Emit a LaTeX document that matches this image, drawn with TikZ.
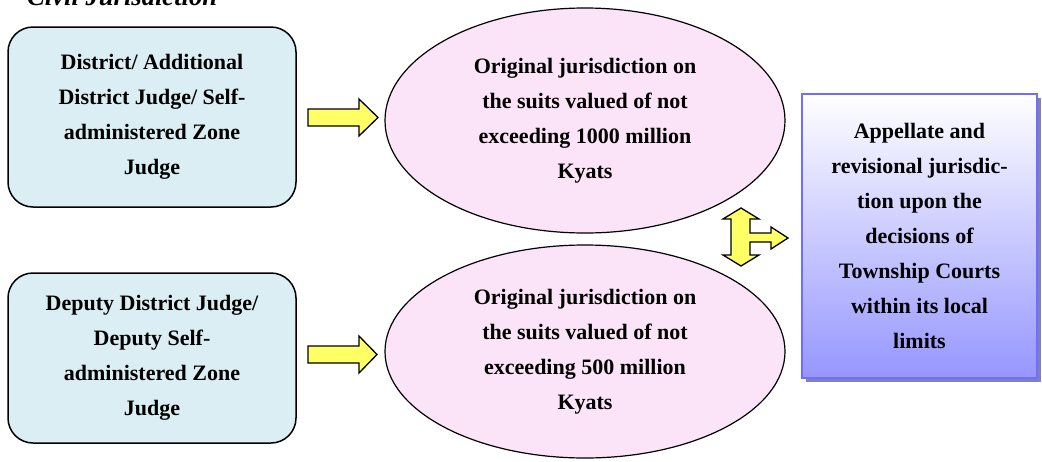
\documentclass[tikz,border=0pt]{standalone}
\usepackage{fontspec}
\setmainfont{Liberation Serif}
\usetikzlibrary{shapes.geometric,shadows}
\definecolor{boxblue}{RGB}{219,238,243}
\definecolor{ellpink}{RGB}{252,228,248}
\definecolor{arrowyellow}{RGB}{255,255,102}
\definecolor{rbborder}{RGB}{110,110,255}
\definecolor{rbbottom}{RGB}{150,150,255}
\definecolor{rbshadow}{RGB}{128,128,190}
\tikzset{
  txt/.style={font=\fontsize{22}{35}\selectfont\bfseries, align=center, inner sep=0pt},
  judgebox/.style={txt, draw=black, line width=1.5pt, fill=boxblue, rounded corners=25pt},
  juris/.style={txt, ellipse, draw=black, line width=1.2pt, fill=ellpink},
  appbox/.style={txt, draw=rbborder, line width=2pt, top color=white, bottom color=rbbottom,
    drop shadow={shadow xshift=4pt, shadow yshift=-4pt, fill=rbshadow, opacity=1}},
  blockarrow/.style={draw=black, line width=1.3pt, fill=arrowyellow, line join=miter},
  titletxt/.style={font=\fontsize{26.6}{30}\selectfont\bfseries\itshape, inner sep=0pt, anchor=base west}
}
\begin{document}
\begin{tikzpicture}[x=1pt,y=-1pt]
\useasboundingbox (0,0) rectangle (1042,461);
\node[titletxt] (title) at (27,5) {Civil Jurisdiction};

\node[judgebox, minimum width=288pt, minimum height=180pt] (j1) at (152,117)
  {District/ Additional\\District Judge/ Self-\\administered Zone\\Judge};
\node[judgebox, minimum width=288pt, minimum height=170pt] (j2) at (152,358)
  {Deputy District Judge/\\Deputy Self-\\administered Zone\\Judge};

\node[juris, minimum width=400pt, minimum height=225pt] (e1) at (585,120.5)
  {Original jurisdiction on\\the suits valued of not\\exceeding 1000 million\\Kyats};
\node[juris, minimum width=400pt, minimum height=213pt] (e2) at (585,351.5)
  {Original jurisdiction on\\the suits valued of not\\exceeding 500 million\\Kyats};

\node[appbox, minimum width=235pt, minimum height=284pt] (app) at (919.5,236)
  {Appellate and\\revisional jurisdic-\\tion upon the\\decisions of\\Township Courts\\within its local\\limits};

% block arrows
\draw[blockarrow] (308,109) -- (359,109) -- (359,99) -- (378,117.5) -- (359,136) -- (359,126) -- (308,126) -- cycle;
\draw[blockarrow] (308,346) -- (359,346) -- (359,336) -- (377,354.5) -- (359,373) -- (359,363) -- (308,363) -- cycle;

% three-way arrow
\draw[blockarrow] (741,208) -- (759,219) -- (750,219) -- (750,233) -- (771,233) -- (771,227) -- (788,238)
  -- (771,249) -- (771,242) -- (750,242) -- (750,255) -- (759,255) -- (741,266) -- (723,255)
  -- (731,255) -- (731,219) -- (723,219) -- cycle;
\end{tikzpicture}
\end{document}
